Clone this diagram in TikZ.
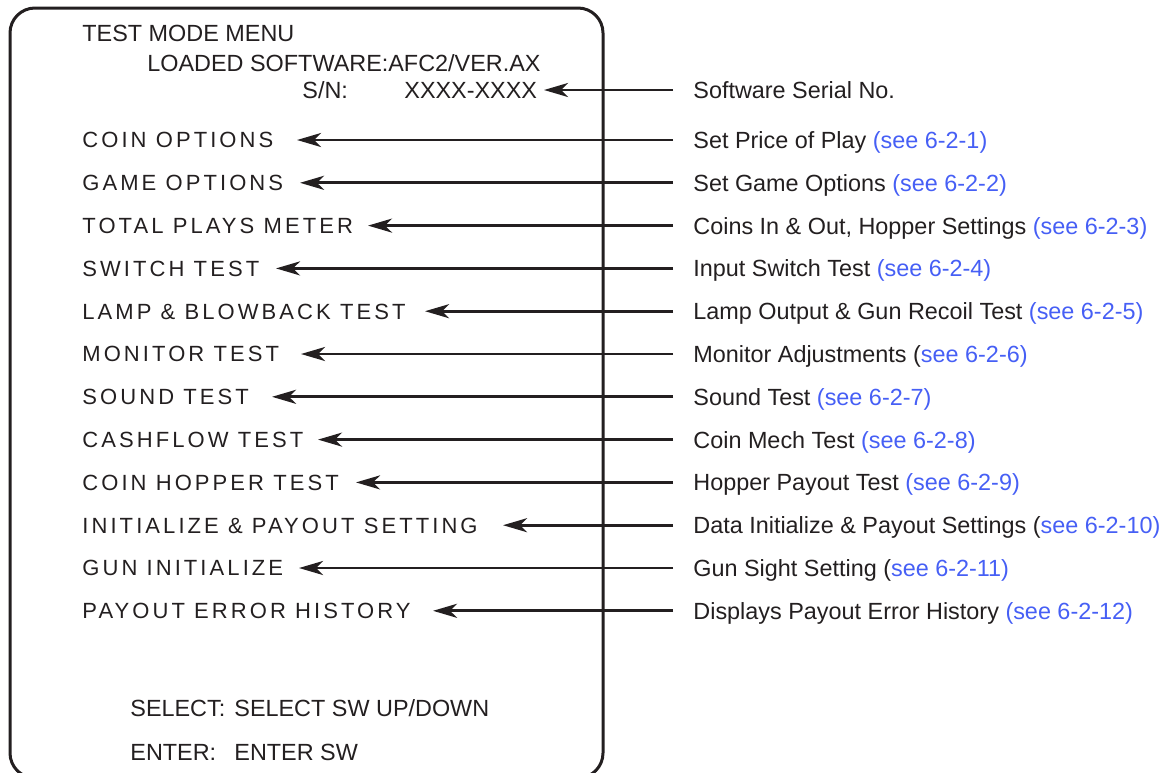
\documentclass[tikz,border=0pt]{standalone}
\usepackage{fontspec}
\setmainfont{Liberation Sans}
\newfontfamily\menufont[LetterSpace=14]{Liberation Sans}
\usetikzlibrary{arrows.meta}
\definecolor{ink}{RGB}{35,31,32}
\definecolor{seeblue}{RGB}{70,95,245}
\newcommand{\see}[1]{\textcolor{seeblue}{#1}}

\begin{document}
\begin{tikzpicture}[x=0.5pt, y=-0.5pt, ink,
  menu/.style={anchor=west, inner sep=0pt, font=\menufont\fontsize{11pt}{13pt}\selectfont,
    text height=10pt, text depth=2.1pt},
  head/.style={anchor=west, inner sep=0pt, font=\fontsize{11.7pt}{14pt}\selectfont},
  desc/.style={anchor=west, inner sep=0pt, font=\fontsize{11.7pt}{14pt}\selectfont,
    text height=10.8pt, text depth=2.4pt},
  arr/.style={line width=1.45pt, -{Stealth[length=12pt, width=7pt, inset=3.5pt]},
    shorten <=10pt}]
  \useasboundingbox (0,0) rectangle (1170,772);
  % screen frame, bottom edge runs off the page
  \draw[line width=1.5pt, rounded corners=12.5pt] (10,8) rectangle (603,778);

  \node[head] (title)  at (82,33)  {TEST MODE MENU};
  \node[head] (loaded) at (147,63) {LOADED SOFTWARE:AFC2/VER.AX};
  \node[head, text height=10.8pt, text depth=2.4pt] (sn) at (302,90) {S/N:};
  \node[head, text height=10.8pt, text depth=2.4pt] (snval) at (404,90) {XXXX-XXXX};

  % menu entries
  \node[menu] (coin)    at (82,140)   {COIN OPTIONS};
  \node[menu] (game)    at (82,182.8) {GAME OPTIONS};
  \node[menu] (total)   at (82,225.6) {TOTAL PLAYS METER};
  \node[menu] (switch)  at (82,268.4) {SWITCH TEST};
  \node[menu] (lamp)    at (82,311.2) {LAMP \& BLOWBACK TEST};
  \node[menu] (monitor) at (82,354)   {MONITOR TEST};
  \node[menu] (sound)   at (82,396.8) {SOUND TEST};
  \node[menu] (cash)    at (82,439.6) {CASHFLOW TEST};
  \node[menu] (hopper)  at (82,482.4) {COIN HOPPER TEST};
  \node[menu] (init)    at (82,525.2) {INITIALIZE \& PAYOUT SETTING};
  \node[menu] (gun)     at (82,568)   {GUN INITIALIZE};
  \node[menu] (error)   at (82,610.8) {PAYOUT ERROR HISTORY};

  \node[head] (selkey) at (130,708) {SELECT:};
  \node[head] (selval) at (234,708) {SELECT SW UP/DOWN};
  \node[head] (entkey) at (130,752) {ENTER:};
  \node[head] (entval) at (234,752) {ENTER SW};

  % descriptions
  \node[desc] (dserial)  at (693,90)    {Software Serial No.};
  \node[desc] (dcoin)    at (693,140)   {Set Price of Play \see{(see 6-2-1)}};
  \node[desc] (dgame)    at (693,182.8) {Set Game Options \see{(see 6-2-2)}};
  \node[desc] (dtotal)   at (693,225.6) {Coins In \& Out, Hopper Settings \see{(see 6-2-3)}};
  \node[desc] (dswitch)  at (693,268.4) {Input Switch Test \see{(see 6-2-4)}};
  \node[desc] (dlamp)    at (693,311.2) {Lamp Output \& Gun Recoil Test \see{(see 6-2-5)}};
  \node[desc] (dmonitor) at (693,354)   {Monitor Adjustments (\see{see 6-2-6)}};
  \node[desc] (dsound)   at (693,396.8) {Sound Test \see{(see 6-2-7)}};
  \node[desc] (dcash)    at (693,439.6) {Coin Mech Test \see{(see 6-2-8)}};
  \node[desc] (dhopper)  at (693,482.4) {Hopper Payout Test \see{(see 6-2-9)}};
  \node[desc] (dinit)    at (693,525.2) {Data Initialize \& Payout Settings (\see{see 6-2-10)}};
  \node[desc] (dgun)     at (693,568)   {Gun Sight Setting (\see{see 6-2-11)}};
  \node[desc] (derror)   at (693,610.8) {Displays Payout Error History \see{(see 6-2-12)}};

  % arrow tips
  \coordinate (tserial)  at (544,90);
  \coordinate (tcoin)    at (297,140);
  \coordinate (tgame)    at (300,182.8);
  \coordinate (ttotal)   at (368,225.6);
  \coordinate (tswitch)  at (276,268.4);
  \coordinate (tlamp)    at (425,311.2);
  \coordinate (tmonitor) at (301,354);
  \coordinate (tsound)   at (272,396.8);
  \coordinate (tcash)    at (318,439.6);
  \coordinate (thopper)  at (356,482.4);
  \coordinate (tinit)    at (503,525.2);
  \coordinate (tgun)     at (299,568);
  \coordinate (terror)   at (433,610.8);

  \draw[arr] (dserial.west)  -- (tserial);
  \draw[arr] (dcoin.west)    -- (tcoin);
  \draw[arr] (dgame.west)    -- (tgame);
  \draw[arr] (dtotal.west)   -- (ttotal);
  \draw[arr] (dswitch.west)  -- (tswitch);
  \draw[arr] (dlamp.west)    -- (tlamp);
  \draw[arr] (dmonitor.west) -- (tmonitor);
  \draw[arr] (dsound.west)   -- (tsound);
  \draw[arr] (dcash.west)    -- (tcash);
  \draw[arr] (dhopper.west)  -- (thopper);
  \draw[arr] (dinit.west)    -- (tinit);
  \draw[arr] (dgun.west)     -- (tgun);
  \draw[arr] (derror.west)   -- (terror);
\end{tikzpicture}
\end{document}
